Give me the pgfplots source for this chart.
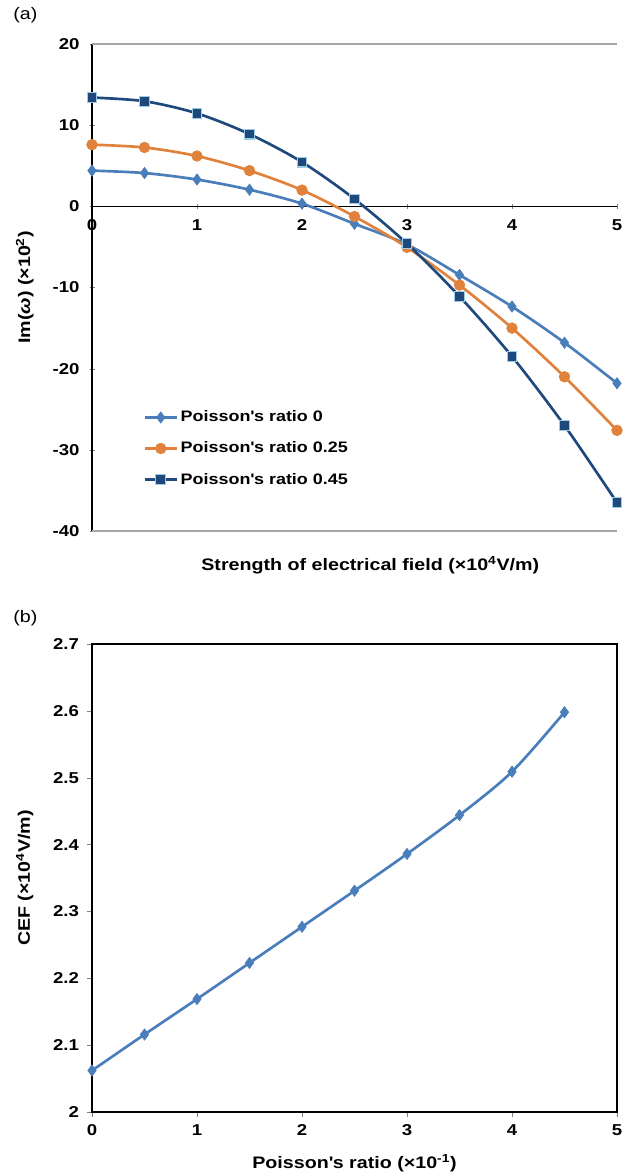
\documentclass[border=0pt]{standalone}
\usepackage{pgfplots}
\pgfplotsset{compat=1.18}
\usepackage{fontspec}
\setmainfont{Liberation Sans}[FakeStretch=1.18]
\definecolor{cA}{HTML}{4A7EBB}
\definecolor{cB}{HTML}{E0823C}
\definecolor{cC}{HTML}{1F497D}
\definecolor{cCe}{HTML}{9DCDE4}
\newcommand{\q}{\textquotesingle}
\begin{document}
\begin{tikzpicture}
\useasboundingbox (0,0) rectangle (469.5pt,-882pt);
\node[anchor=west,inner sep=0pt,font=\fontsize{12.5}{14}\selectfont] at (9.75pt,-11.25pt) {(a)};
\node[anchor=west,inner sep=0pt,font=\fontsize{12.5}{14}\selectfont] at (9.75pt,-464pt) {(b)};
\pgfplotsset{
  every axis/.append style={
    scale only axis, width=393.75pt, clip=false,
    tick align=outside, major tick length=3.75pt,
    ticklabel style={font=\fontsize{11.8}{13}\selectfont\bfseries},
    /pgf/number format/assume math mode=true,
    label style={font=\fontsize{12.5}{15}\selectfont\bfseries},
    ylabel style={at={(axis description cs:-0.128,0.5)}, anchor=center, rotate=0},
    xmin=0, xmax=5, xtick={0,1,2,3,4,5},
  }
}
\begin{axis}[
  at={(69pt,-398.25pt)}, anchor=south west, height=365.25pt,
  ymin=-40, ymax=20, ytick={-40,-30,-20,-10,0,10,20},
  axis x line=middle, axis y line=left,
  axis line style={-, line width=0.9pt, black},
  hide obscured x ticks=false,
  xticklabel style={yshift=-4.5pt},
  yticklabel style={xshift=-4pt},
  xlabel={Strength of electrical field (×10\textsuperscript{4}V/m)},
  xlabel style={at={(axis description cs:0.53,-0.07)}, anchor=center, font=\fontsize{12.5}{15}\selectfont\bfseries},
  ylabel={Im(\textit{ω}) (×10\textsuperscript{2})},
  legend cell align=left,
  legend style={at={(0.09,0.258)}, anchor=north west, draw=none, fill=none,
    font=\fontsize{11.4}{13}\selectfont\bfseries, row sep=9.5pt},
  legend image code/.code={\draw[mark repeat=2,mark phase=2] plot coordinates {(0cm,0cm) (0.42cm,0cm) (0.84cm,0cm)};},
]
\draw[gray!70, line width=0.8pt] (rel axis cs:0,1) -- (rel axis cs:1,1);
\draw[gray!70, line width=0.8pt] (rel axis cs:0,0) -- (rel axis cs:1,0);
\addplot[cA, line width=2pt, smooth, mark=diamond*, mark size=4.2pt, mark options={fill=cA, draw=cA, line width=0.5pt}]
  coordinates {(0,4.4) (0.5,4.1) (1,3.3) (1.5,2.05) (2,0.33) (2.5,-2.15) (3,-4.7) (3.5,-8.45) (4,-12.35) (4.5,-16.8) (5,-21.8)};
\addlegendentry{Poisson\q s ratio 0}
\addplot[cB, line width=2pt, smooth, mark=*, mark size=4pt, mark options={fill=cB, draw=cB, line width=0.5pt}]
  coordinates {(0,7.6) (0.5,7.25) (1,6.2) (1.5,4.4) (2,2.0) (2.5,-1.25) (3,-5.05) (3.5,-9.7) (4,-15.0) (4.5,-21.0) (5,-27.6)};
\addlegendentry{Poisson\q s ratio 0.25}
\addplot[cC, line width=2pt, smooth, mark=square*, mark size=3.7pt, mark options={fill=cC, draw=cCe, line width=0.8pt}]
  coordinates {(0,13.4) (0.5,12.95) (1,11.45) (1.5,8.9) (2,5.45) (2.5,0.9) (3,-4.6) (3.5,-11.1) (4,-18.5) (4.5,-27.0) (5,-36.5)};
\addlegendentry{Poisson\q s ratio 0.45}
\end{axis}
\begin{axis}[
  at={(69pt,-834pt)}, anchor=south west, height=351pt,
  ymin=2, ymax=2.7, ytick={2,2.1,2.2,2.3,2.4,2.5,2.6,2.7},
  xtick pos=bottom, ytick pos=left,
  axis line style={line width=0.9pt, black},
  xticklabel style={yshift=-2pt},
  yticklabel style={xshift=-2.5pt, /pgf/number format/.cd, fixed, precision=1},
  xlabel={Poisson\q s ratio (×10\textsuperscript{-1})},
  xlabel style={at={(axis description cs:0.5,-0.109)}, anchor=center},
  ylabel={CEF (×10\textsuperscript{4}V/m)},
]
\addplot[cA, line width=2pt, smooth, mark=diamond*, mark size=4.2pt, mark options={fill=cA, draw=cA, line width=0.5pt}]
  coordinates {(0,2.062) (0.5,2.116) (1,2.169) (1.5,2.223) (2,2.277) (2.5,2.331) (3,2.386) (3.5,2.444) (4,2.509) (4.5,2.598)};
\end{axis}
\end{tikzpicture}
\end{document}
